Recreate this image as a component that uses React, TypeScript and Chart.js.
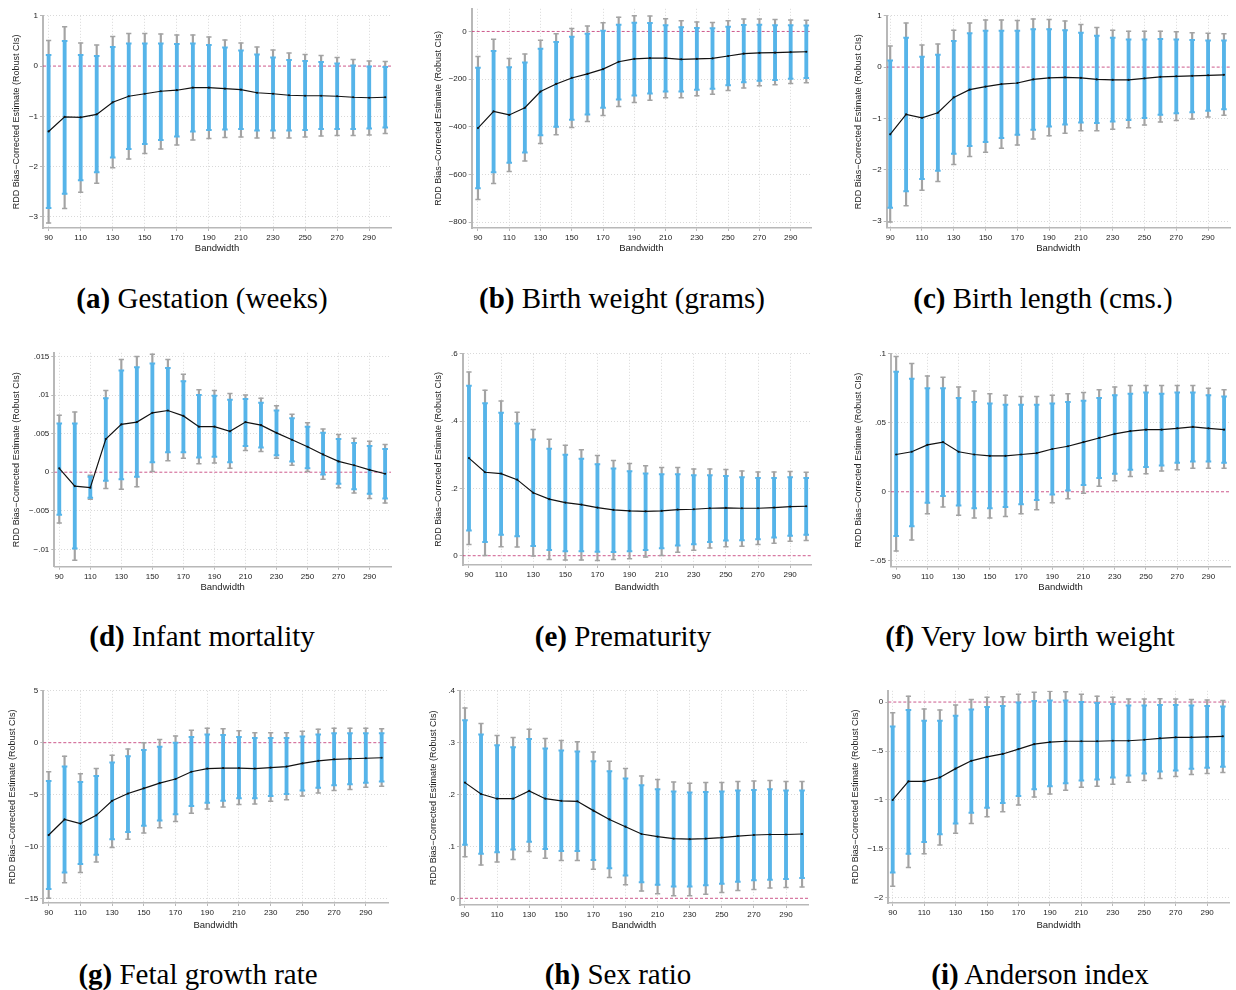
import React, { useEffect, useRef } from "react";
import { Chart, registerables } from "chart.js";

Chart.register(...registerables);

// ---------------- DATA ----------------
const BANDWIDTH = [90, 100, 110, 120, 130, 140, 150, 160, 170, 180, 190, 200, 210, 220, 230, 240, 250, 260, 270, 280, 290, 300];
const X_TICKS = [90, 110, 130, 150, 170, 190, 210, 230, 250, 270, 290];

// (a) Gestation
const gestEst = [-1.30, -1.01, -1.02, -0.96, -0.72, -0.60, -0.55, -0.50, -0.48, -0.43, -0.43, -0.45, -0.47, -0.53, -0.55, -0.58, -0.59, -0.59, -0.60, -0.62, -0.63, -0.62];
const gestBlueHi = [0.22, 0.50, 0.22, 0.20, 0.38, 0.45, 0.45, 0.45, 0.44, 0.45, 0.42, 0.37, 0.31, 0.23, 0.17, 0.12, 0.10, 0.08, 0.05, 0.01, -0.01, -0.02];
const gestGrayHi = [0.51, 0.78, 0.46, 0.42, 0.59, 0.65, 0.65, 0.64, 0.62, 0.62, 0.58, 0.52, 0.46, 0.38, 0.32, 0.26, 0.23, 0.21, 0.17, 0.13, 0.10, 0.09];
const gestBlueLo = [-2.82, -2.54, -2.27, -2.11, -1.82, -1.65, -1.55, -1.47, -1.40, -1.30, -1.27, -1.26, -1.25, -1.28, -1.28, -1.28, -1.27, -1.25, -1.25, -1.25, -1.24, -1.22];
const gestGrayLo = [-3.12, -2.83, -2.51, -2.33, -2.02, -1.85, -1.74, -1.65, -1.57, -1.47, -1.44, -1.42, -1.41, -1.43, -1.43, -1.43, -1.41, -1.39, -1.38, -1.38, -1.37, -1.34];
const gestTicks = [-3, -2, -1, 0, 1];

// (b) Birth weight
const bwEst = [-405, -335, -350, -320, -252, -220, -195, -178, -158, -127, -115, -112, -112, -117, -115, -113, -103, -93, -90, -89, -87, -85];
const bwBlueHi = [-152, -82, -150, -130, -72, -44, -22, -10, 3, 28, 36, 35, 26, 18, 15, 13, 20, 27, 28, 26, 26, 25];
const bwGrayHi = [-105, -33, -113, -95, -37, -10, 12, 23, 37, 60, 66, 65, 53, 45, 40, 38, 45, 52, 52, 50, 48, 47];
const bwBlueLo = [-657, -590, -550, -507, -435, -400, -370, -348, -320, -285, -268, -260, -252, -252, -244, -240, -225, -213, -207, -203, -198, -195];
const bwGrayLo = [-705, -637, -587, -543, -470, -433, -403, -378, -352, -315, -298, -288, -278, -278, -270, -263, -248, -237, -228, -223, -218, -215];
const bwTicks = [-800, -600, -400, -200, 0];

// (c) Birth length
const blEst = [-1.31, -0.92, -0.99, -0.89, -0.59, -0.44, -0.38, -0.33, -0.31, -0.24, -0.21, -0.20, -0.21, -0.24, -0.25, -0.25, -0.22, -0.19, -0.18, -0.17, -0.16, -0.15];
const blBlueHi = [0.13, 0.57, 0.20, 0.24, 0.51, 0.66, 0.71, 0.71, 0.71, 0.74, 0.74, 0.72, 0.67, 0.61, 0.57, 0.54, 0.54, 0.55, 0.54, 0.53, 0.52, 0.52];
const blGrayHi = [0.41, 0.86, 0.43, 0.45, 0.72, 0.86, 0.92, 0.92, 0.91, 0.94, 0.93, 0.90, 0.83, 0.77, 0.72, 0.70, 0.70, 0.70, 0.69, 0.67, 0.66, 0.65];
const blBlueLo = [-2.74, -2.42, -2.18, -2.02, -1.69, -1.54, -1.46, -1.38, -1.32, -1.22, -1.16, -1.12, -1.08, -1.09, -1.06, -1.03, -0.99, -0.93, -0.90, -0.88, -0.85, -0.82];
const blGrayLo = [-3.02, -2.70, -2.40, -2.23, -1.90, -1.74, -1.66, -1.58, -1.52, -1.40, -1.34, -1.29, -1.24, -1.24, -1.21, -1.18, -1.13, -1.07, -1.04, -1.01, -0.97, -0.94];
const blTicks = [-3, -2, -1, 0, 1];

// (d) Infant mortality
const imEst = [0.0005, -0.0018, -0.0020, 0.0043, 0.0062, 0.0065, 0.0077, 0.0080, 0.0073, 0.0059, 0.0059, 0.0053, 0.0065, 0.0061, 0.0051, 0.0042, 0.0033, 0.0023, 0.0014, 0.0009, 0.0003, -0.0002];
const imBlueHi = [0.0063, 0.0063, -0.0006, 0.0096, 0.0132, 0.0136, 0.0141, 0.0135, 0.0118, 0.0100, 0.0099, 0.0094, 0.0095, 0.0090, 0.0080, 0.0070, 0.0059, 0.0051, 0.0043, 0.0038, 0.0034, 0.0030];
const imGrayHi = [0.0074, 0.0078, -0.0004, 0.0106, 0.0146, 0.0150, 0.0153, 0.0146, 0.0127, 0.0107, 0.0106, 0.0102, 0.0100, 0.0096, 0.0086, 0.0075, 0.0064, 0.0056, 0.0049, 0.0044, 0.0040, 0.0036];
const imBlueLo = [-0.0055, -0.0099, -0.0033, -0.0011, -0.0009, -0.0006, 0.0013, 0.0026, 0.0026, 0.0019, 0.0020, 0.0013, 0.0034, 0.0032, 0.0022, 0.0014, 0.0005, -0.0003, -0.0015, -0.0022, -0.0028, -0.0034];
const imGrayLo = [-0.0066, -0.0114, -0.0035, -0.0021, -0.0022, -0.0019, 0.0001, 0.0015, 0.0018, 0.0011, 0.0012, 0.0005, 0.0028, 0.0027, 0.0018, 0.0009, 0.0001, -0.0009, -0.0020, -0.0027, -0.0034, -0.0040];
const imTicks = [-0.01, -0.005, 0, 0.005, 0.01, 0.015];

// (e) Prematurity
const prEst = [0.290, 0.248, 0.244, 0.226, 0.187, 0.168, 0.158, 0.152, 0.143, 0.136, 0.133, 0.132, 0.133, 0.137, 0.138, 0.141, 0.142, 0.141, 0.141, 0.143, 0.146, 0.147];
const prBlueHi = [0.505, 0.453, 0.425, 0.393, 0.345, 0.318, 0.300, 0.288, 0.272, 0.259, 0.251, 0.244, 0.242, 0.242, 0.239, 0.239, 0.237, 0.233, 0.231, 0.231, 0.233, 0.231];
const prGrayHi = [0.546, 0.492, 0.460, 0.426, 0.375, 0.346, 0.328, 0.315, 0.298, 0.283, 0.274, 0.267, 0.262, 0.262, 0.258, 0.258, 0.256, 0.252, 0.249, 0.249, 0.250, 0.248];
const prBlueLo = [0.075, 0.041, 0.062, 0.058, 0.029, 0.017, 0.013, 0.013, 0.012, 0.011, 0.013, 0.017, 0.022, 0.030, 0.034, 0.041, 0.045, 0.046, 0.049, 0.054, 0.059, 0.062];
const prGrayLo = [0.033, 0.001, 0.027, 0.026, -0.001, -0.011, -0.013, -0.013, -0.014, -0.011, -0.009, -0.004, 0.001, 0.010, 0.016, 0.023, 0.027, 0.028, 0.033, 0.037, 0.043, 0.045];
const prTicks = [0, 0.2, 0.4, 0.6];

// (f) Very low birth weight
const vlEst = [0.027, 0.029, 0.034, 0.036, 0.029, 0.027, 0.026, 0.026, 0.027, 0.028, 0.031, 0.033, 0.036, 0.039, 0.042, 0.044, 0.045, 0.045, 0.046, 0.047, 0.046, 0.045];
const vlBlueHi = [0.087, 0.082, 0.075, 0.075, 0.068, 0.065, 0.064, 0.063, 0.063, 0.063, 0.064, 0.065, 0.066, 0.068, 0.070, 0.071, 0.072, 0.071, 0.072, 0.072, 0.070, 0.069];
const vlGrayHi = [0.098, 0.093, 0.084, 0.083, 0.076, 0.073, 0.071, 0.070, 0.069, 0.069, 0.070, 0.071, 0.072, 0.074, 0.076, 0.077, 0.077, 0.077, 0.077, 0.077, 0.075, 0.074];
const vlBlueLo = [-0.032, -0.025, -0.008, -0.003, -0.010, -0.012, -0.012, -0.011, -0.009, -0.006, -0.002, 0.001, 0.005, 0.010, 0.013, 0.016, 0.018, 0.019, 0.021, 0.022, 0.022, 0.021];
const vlGrayLo = [-0.043, -0.035, -0.016, -0.011, -0.017, -0.019, -0.019, -0.018, -0.016, -0.013, -0.008, -0.005, -0.001, 0.004, 0.008, 0.011, 0.013, 0.015, 0.016, 0.017, 0.017, 0.017];
const vlTicks = [-0.05, 0, 0.05, 0.1];

// (g) Fetal growth rate
const fgEst = [-8.9, -7.4, -7.8, -7.0, -5.6, -4.9, -4.4, -3.9, -3.5, -2.8, -2.5, -2.45, -2.45, -2.5, -2.4, -2.3, -2.0, -1.75, -1.6, -1.55, -1.5, -1.45];
const fgBlueHi = [-3.7, -2.3, -3.8, -3.2, -1.9, -1.3, -0.7, -0.4, 0.0, 0.55, 0.8, 0.75, 0.55, 0.45, 0.45, 0.45, 0.6, 0.8, 0.9, 0.9, 0.9, 0.9];
const fgGrayHi = [-2.8, -1.3, -3.0, -2.5, -1.2, -0.6, 0.0, 0.3, 0.65, 1.2, 1.4, 1.35, 1.15, 0.95, 0.95, 0.95, 1.1, 1.3, 1.4, 1.4, 1.4, 1.35];
const fgBlueLo = [-14.1, -12.5, -11.7, -10.8, -9.3, -8.6, -8.0, -7.5, -6.9, -6.1, -5.8, -5.6, -5.35, -5.35, -5.15, -4.95, -4.6, -4.35, -4.1, -4.0, -3.85, -3.75];
const fgGrayLo = [-15.0, -13.5, -12.5, -11.5, -10.1, -9.3, -8.7, -8.2, -7.6, -6.8, -6.4, -6.2, -5.95, -5.9, -5.65, -5.5, -5.15, -4.85, -4.6, -4.5, -4.3, -4.2];
const fgTicks = [-15, -10, -5, 0, 5];

// (h) Sex ratio
const srEst = [0.223, 0.201, 0.192, 0.192, 0.207, 0.192, 0.188, 0.187, 0.169, 0.152, 0.138, 0.124, 0.119, 0.115, 0.114, 0.115, 0.117, 0.120, 0.122, 0.123, 0.123, 0.124];
const srBlueHi = [0.343, 0.316, 0.295, 0.291, 0.307, 0.289, 0.285, 0.283, 0.264, 0.245, 0.231, 0.218, 0.210, 0.206, 0.204, 0.205, 0.206, 0.208, 0.209, 0.210, 0.208, 0.208];
const srGrayHi = [0.367, 0.337, 0.314, 0.310, 0.326, 0.308, 0.304, 0.302, 0.282, 0.264, 0.250, 0.236, 0.229, 0.224, 0.222, 0.223, 0.223, 0.225, 0.226, 0.227, 0.225, 0.225];
const srBlueLo = [0.103, 0.086, 0.089, 0.094, 0.109, 0.095, 0.091, 0.091, 0.074, 0.058, 0.044, 0.031, 0.026, 0.023, 0.023, 0.025, 0.028, 0.032, 0.035, 0.036, 0.037, 0.039];
const srGrayLo = [0.080, 0.064, 0.070, 0.075, 0.090, 0.077, 0.073, 0.073, 0.056, 0.040, 0.026, 0.014, 0.009, 0.005, 0.005, 0.008, 0.011, 0.015, 0.017, 0.020, 0.021, 0.022];
const srTicks = [0, 0.1, 0.2, 0.3, 0.4];

// (i) Anderson index
const aiEst = [-1.00, -0.81, -0.81, -0.77, -0.68, -0.60, -0.56, -0.53, -0.48, -0.43, -0.41, -0.40, -0.40, -0.40, -0.395, -0.395, -0.385, -0.37, -0.36, -0.36, -0.355, -0.35];
const aiBlueHi = [-0.25, -0.08, -0.19, -0.19, -0.14, -0.075, -0.05, -0.04, -0.005, 0.01, 0.015, 0.015, 0.0, -0.01, -0.02, -0.035, -0.035, -0.03, -0.03, -0.035, -0.04, -0.045];
const aiGrayHi = [-0.11, 0.06, -0.07, -0.08, -0.03, 0.025, 0.05, 0.055, 0.08, 0.10, 0.11, 0.105, 0.08, 0.06, 0.05, 0.03, 0.03, 0.035, 0.03, 0.025, 0.02, 0.015];
const aiBlueLo = [-1.74, -1.55, -1.43, -1.35, -1.24, -1.13, -1.08, -1.03, -0.96, -0.89, -0.86, -0.83, -0.80, -0.79, -0.77, -0.75, -0.73, -0.71, -0.70, -0.68, -0.67, -0.66];
const aiGrayLo = [-1.88, -1.69, -1.55, -1.46, -1.34, -1.24, -1.17, -1.12, -1.05, -0.97, -0.94, -0.90, -0.87, -0.86, -0.84, -0.82, -0.80, -0.78, -0.76, -0.74, -0.73, -0.72];
const aiTicks = [-2, -1.5, -1, -0.5, 0];

// ---------------- STYLE ----------------
const BLUE = "#56B4E9";
const GRAY = "#a3a3a3";
const ZERO = "rgba(196, 60, 120, 0.85)";
const GRID = "#d9d9d9";
const AXIS = "#b8b8b8";
const TEXT = "#222";
const SANS = "'Liberation Sans', Arial, Helvetica, sans-serif";
const Y_TITLE = "RDD Bias\u2212Corrected Estimate (Robust CIs)";

function fmt(v: number): string {
  if (Math.abs(v) < 1e-12) return "0";
  let s = String(Math.abs(+v.toPrecision(6)));
  if (s.startsWith("0.")) s = s.slice(1);
  return (v < 0 ? "\u2212" : "") + s;
}

type Panel = {
  letter: string; caption: string;
  est: number[]; blueLo: number[]; blueHi: number[]; grayLo: number[]; grayHi: number[];
  yTicks: number[]; ymin: number; ymax: number; xmin: number; xmax: number;
  titleX: number; axisX: number; plotTop: number; axisY: number; bwY: number; plotRight: number;
  capX: number; capY: number;
};

const PANELS: Panel[] = [
  { letter: "(a)", caption: "Gestation (weeks)", est: gestEst, blueLo: gestBlueLo, blueHi: gestBlueHi, grayLo: gestGrayLo, grayHi: gestGrayHi,
    yTicks: gestTicks, ymin: -3.22, ymax: 1.0, xmin: 86.5, xmax: 303.6,
    titleX: 17.3, axisX: 43, plotTop: 15, axisY: 228, bwY: 248, plotRight: 395, capX: 202, capY: 298 },
  { letter: "(b)", caption: "Birth weight (grams)", est: bwEst, blueLo: bwBlueLo, blueHi: bwBlueHi, grayLo: bwGrayLo, grayHi: bwGrayHi,
    yTicks: bwTicks, ymin: -824, ymax: 95, xmin: 86, xmax: 303,
    titleX: 439, axisX: 471.7, plotTop: 8, axisY: 228, bwY: 248, plotRight: 815, capX: 622, capY: 298 },
  { letter: "(c)", caption: "Birth length (cms.)", est: blEst, blueLo: blBlueLo, blueHi: blBlueHi, grayLo: blGrayLo, grayHi: blGrayHi,
    yTicks: blTicks, ymin: -3.13, ymax: 1.0, xmin: 87.8, xmax: 303.8,
    titleX: 859.3, axisX: 886.7, plotTop: 15.3, axisY: 227.7, bwY: 248, plotRight: 1235, capX: 1043, capY: 298 },
  { letter: "(d)", caption: "Infant mortality", est: imEst, blueLo: imBlueLo, blueHi: imBlueHi, grayLo: imGrayLo, grayHi: imGrayHi,
    yTicks: imTicks, ymin: -0.01225, ymax: 0.01548, xmin: 86.8, xmax: 303.8,
    titleX: 17.3, axisX: 54.3, plotTop: 352, axisY: 566.7, bwY: 586.7, plotRight: 395, capX: 202, capY: 636 },
  { letter: "(e)", caption: "Prematurity", est: prEst, blueLo: prBlueLo, blueHi: prBlueHi, grayLo: prGrayLo, grayHi: prGrayHi,
    yTicks: prTicks, ymin: -0.0276, ymax: 0.6, xmin: 86.1, xmax: 303,
    titleX: 439.3, axisX: 462.7, plotTop: 353.3, axisY: 565, bwY: 587.3, plotRight: 815, capX: 623, capY: 636 },
  { letter: "(f)", caption: "Very low birth weight", est: vlEst, blueLo: vlBlueLo, blueHi: vlBlueHi, grayLo: vlGrayLo, grayHi: vlGrayHi,
    yTicks: vlTicks, ymin: -0.0543, ymax: 0.1, xmin: 86.7, xmax: 303.8,
    titleX: 859.3, axisX: 891, plotTop: 353.3, axisY: 566.7, bwY: 587.3, plotRight: 1235, capX: 1030, capY: 636 },
  { letter: "(g)", caption: "Fetal growth rate", est: fgEst, blueLo: fgBlueLo, blueHi: fgBlueHi, grayLo: fgGrayLo, grayHi: fgGrayHi,
    yTicks: fgTicks, ymin: -15.45, ymax: 5, xmin: 86.6, xmax: 304,
    titleX: 13.3, axisX: 43.3, plotTop: 690.7, axisY: 903, bwY: 925, plotRight: 392, capX: 198, capY: 974 },
  { letter: "(h)", caption: "Sex ratio", est: srEst, blueLo: srBlueLo, blueHi: srBlueHi, grayLo: srGrayLo, grayHi: srGrayHi,
    yTicks: srTicks, ymin: -0.0129, ymax: 0.4, xmin: 86.9, xmax: 303.7,
    titleX: 434, axisX: 460, plotTop: 690.7, axisY: 905, bwY: 925, plotRight: 812, capX: 618, capY: 974 },
  { letter: "(i)", caption: "Anderson index", est: aiEst, blueLo: aiBlueLo, blueHi: aiBlueHi, grayLo: aiGrayLo, grayHi: aiGrayHi,
    yTicks: aiTicks, ymin: -2.052, ymax: 0.115, xmin: 87.2, xmax: 303.9,
    titleX: 856, axisX: 888.3, plotTop: 690, axisY: 903, bwY: 925, plotRight: 1233, capX: 1040, capY: 974 },
];

const TITLE_SIZE = 9;
const TITLE_LH = TITLE_SIZE * 1.2;

function PanelChart({ p }: { p: Panel }) {
  const ref = useRef<HTMLCanvasElement | null>(null);
  const left = Math.floor(p.titleX - TITLE_LH / 2);
  const top = Math.floor(p.plotTop - 6);
  const right = Math.min(1236, Math.ceil(p.plotRight + 2));
  const bottom = Math.ceil(p.bwY + TITLE_LH / 2);
  const W = right - left;
  const H = bottom - top;

  useEffect(() => {
    const canvas = ref.current;
    if (!canvas) return;
    const yW = p.axisX - left;
    const xH = bottom - p.axisY;
    const caps = (lo: number[], hi: number[]) => [
      ...BANDWIDTH.map((x, i) => ({ x, y: lo[i] })),
      ...BANDWIDTH.map((x, i) => ({ x, y: hi[i] })),
    ];
    const chart = new Chart(canvas, {
      type: "bar",
      data: {
        datasets: [
          { type: "line", data: [{ x: p.xmin, y: 0 }, { x: p.xmax, y: 0 }], borderColor: ZERO, borderWidth: 1, borderDash: [3, 2], pointRadius: 0, order: 10 } as any,
          { type: "bar", data: BANDWIDTH.map((x, i) => ({ x, y: [p.grayLo[i], p.grayHi[i]] })), backgroundColor: GRAY, barThickness: 1.5, grouped: false, order: 9 } as any,
          { type: "line", data: caps(p.grayLo, p.grayHi), showLine: false, pointStyle: "line", pointRadius: 2.6, pointBorderColor: GRAY, pointBorderWidth: 1.5, order: 8 } as any,
          { type: "bar", data: BANDWIDTH.map((x, i) => ({ x, y: [p.blueLo[i], p.blueHi[i]] })), backgroundColor: BLUE, barThickness: 3.2, grouped: false, order: 7 } as any,
          { type: "line", data: caps(p.blueLo, p.blueHi), showLine: false, pointStyle: "line", pointRadius: 2.8, pointBorderColor: BLUE, pointBorderWidth: 2, order: 6 } as any,
          { type: "line", data: BANDWIDTH.map((x, i) => ({ x, y: p.est[i] })), borderColor: "#111", borderWidth: 1.2, pointRadius: 1.1, pointBackgroundColor: "#111", pointBorderWidth: 0, tension: 0, order: 1 } as any,
        ],
      },
      options: {
        responsive: false,
        animation: false,
        events: [],
        layout: { padding: { top: p.plotTop - top, right: right - p.plotRight, left: 0, bottom: 0 } },
        plugins: { legend: { display: false }, tooltip: { enabled: false } },
        scales: {
          x: {
            type: "linear", min: p.xmin, max: p.xmax, offset: false,
            afterBuildTicks: (s: any) => { s.ticks = X_TICKS.map((v) => ({ value: v })); },
            afterFit: (s: any) => { s.height = xH; },
            grid: { color: GRID, lineWidth: 1, offset: false, drawTicks: true, tickLength: 3, tickColor: AXIS, tickWidth: 1 },
            border: { display: true, color: AXIS, width: 1.5, dash: [1, 2] },
            ticks: { font: { family: SANS, size: 8 }, color: TEXT, padding: 2, maxRotation: 0, autoSkip: false, callback: (v: any) => String(v) },
            title: { display: true, text: "Bandwidth", font: { family: SANS, size: 9.5 }, color: TEXT, padding: 0 },
          },
          y: {
            type: "linear", min: p.ymin, max: p.ymax, beginAtZero: false,
            afterBuildTicks: (s: any) => { s.ticks = p.yTicks.map((v) => ({ value: v })); },
            afterFit: (s: any) => { s.width = yW; },
            grid: {
              color: (c: any) => (c.tick && Math.abs(c.tick.value) < 1e-12 ? "rgba(0,0,0,0)" : GRID),
              lineWidth: 1, drawTicks: true, tickLength: 3, tickColor: AXIS, tickWidth: 1,
            },
            border: { display: true, color: AXIS, width: 2, dash: [1, 2] },
            ticks: { font: { family: SANS, size: 8 }, color: TEXT, padding: 2, autoSkip: false, callback: (v: any) => fmt(Number(v)) },
            title: { display: true, text: Y_TITLE, font: { family: SANS, size: TITLE_SIZE }, color: TEXT, padding: 0 },
          },
        },
      } as any,
    });
    return () => chart.destroy();
  }, []);

  return (
    <canvas
      ref={ref}
      width={W}
      height={H}
      style={{ position: "absolute", left, top, width: W, height: H }}
    />
  );
}

function Caption({ p }: { p: Panel }) {
  return (
    <div
      style={{
        position: "absolute",
        left: p.capX - 250,
        top: p.capY - 17,
        width: 500,
        textAlign: "center",
        fontFamily: "'Liberation Serif', 'Times New Roman', serif",
        fontSize: 29,
        lineHeight: "34px",
        color: "#000",
        whiteSpace: "nowrap",
      }}
    >
      <b>{p.letter}</b> {p.caption}
    </div>
  );
}

export default function App() {
  return (
    <div style={{ position: "absolute", left: 0, top: 0, width: 1236, height: 990, background: "#fff", overflow: "hidden" }}>
      {PANELS.map((p) => (
        <React.Fragment key={p.letter}>
          <PanelChart p={p} />
          <Caption p={p} />
        </React.Fragment>
      ))}
    </div>
  );
}
